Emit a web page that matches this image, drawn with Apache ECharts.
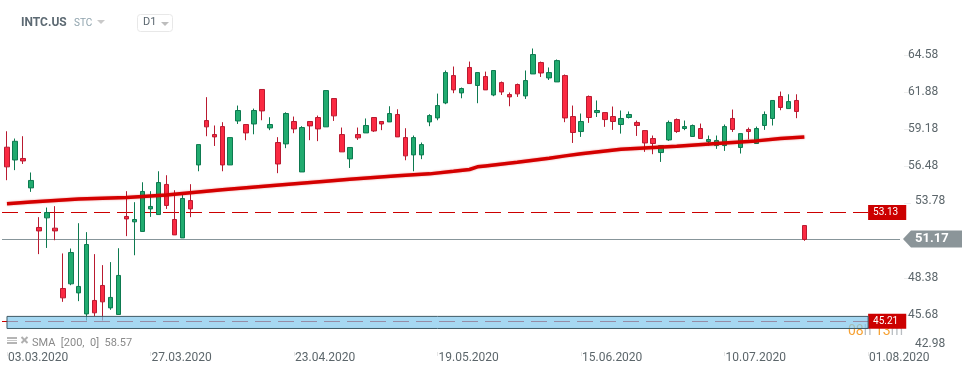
<!DOCTYPE html>
<html>
<head>
<meta charset="utf-8">
<title>INTC.US</title>
<style>
  html, body { margin: 0; padding: 0; background: #fff; }
  #chart { width: 974px; height: 375px; }
</style>
<script src="https://cdn.jsdelivr.net/npm/echarts@6/dist/echarts.min.js"></script>
</head>
<body>
<div id="chart"></div>
<script>
const opens = [
  57.88,56.95,57.06,54.92,52.04,52.74,51.99,47.60,47.94,47.28,
  45.75,46.73,47.82,46.19,45.71,52.84,52.45,51.75,53.39,52.98,
  55.17,52.62,51.28,54.00,56.59,59.82,58.80,59.38,56.59,59.79,
  59.53,59.57,62.08,59.28,58.22,58.12,59.75,56.08,59.75,60.04,
  59.36,61.42,58.80,57.03,58.80,58.92,60.04,59.75,59.72,60.26,
  58.58,57.32,57.32,59.72,60.01,61.10,63.09,61.83,63.68,62.37,
  63.02,61.68,62.58,61.71,62.44,61.61,63.21,64.04,62.92,62.63,
  63.09,60.11,59.02,61.57,60.40,60.40,60.11,59.53,60.04,59.68,
  59.09,58.51,57.49,58.41,59.89,59.24,58.66,59.24,58.29,58.00,
  58.00,59.97,57.86,59.17,58.15,59.46,59.97,61.57,60.69,61.28,52.18
];
const closes = [
  56.45,58.31,56.88,55.46,51.79,53.13,51.79,46.92,50.22,47.75,
  50.80,45.83,46.63,46.95,48.55,52.66,52.62,54.66,53.57,55.31,
  53.64,51.50,54.15,53.39,58.07,59.36,58.63,56.59,58.58,60.55,
  58.92,60.55,60.52,59.53,56.66,60.33,59.21,59.31,59.43,59.21,
  62.00,60.16,57.54,57.86,58.56,59.46,59.06,59.57,60.33,58.63,
  57.25,58.58,58.07,60.18,60.91,63.31,62.05,62.15,62.51,63.31,
  62.05,63.46,61.90,61.54,61.76,62.73,64.62,63.28,63.31,64.18,
  60.01,58.95,59.75,60.04,60.55,59.89,59.75,59.97,60.26,59.46,
  58.19,58.15,58.00,59.68,59.02,59.38,59.46,58.51,58.44,58.37,
  59.38,59.17,58.87,59.02,59.24,60.26,61.28,60.77,61.20,60.48,51.17
];
const lows = [
  55.48,56.21,56.66,54.63,50.10,50.55,51.11,46.63,47.84,46.68,
  45.27,45.59,45.27,46.05,45.71,51.41,50.02,51.75,52.81,52.98,
  53.39,51.50,51.28,52.79,56.13,58.68,57.97,56.13,56.59,59.57,
  58.39,58.82,59.84,59.12,55.99,57.81,58.90,56.08,58.39,58.32,
  59.36,59.79,57.54,56.37,58.41,58.92,58.99,59.12,59.72,58.63,
  56.93,56.13,57.01,59.41,59.84,61.01,61.81,61.44,62.51,61.08,
  62.05,61.59,61.68,60.86,61.54,61.39,63.21,62.99,62.77,62.63,
  59.70,58.19,58.63,59.65,60.08,59.36,59.14,58.87,59.97,58.70,
  57.54,57.37,56.81,58.34,58.92,59.12,58.63,58.48,58.00,57.76,
  57.61,58.99,57.42,58.44,58.15,59.14,59.46,60.57,60.69,59.99,51.07
];
const highs = [
  59.04,58.51,58.68,56.04,52.79,53.49,53.59,50.15,50.51,52.35,
  51.70,50.10,49.30,49.52,50.53,54.68,53.88,55.33,54.68,56.13,
  55.84,54.75,54.58,55.19,58.07,61.52,59.46,59.70,58.58,60.91,
  59.53,60.69,62.08,60.06,58.61,60.42,60.11,59.41,59.75,60.18,
  62.00,61.42,59.31,57.86,59.31,59.97,60.04,59.75,60.86,60.64,
  59.26,58.73,58.22,60.28,61.78,63.46,63.75,62.22,64.11,63.31,
  63.38,63.46,62.66,61.86,62.51,63.46,65.06,64.11,63.68,64.26,
  63.17,60.91,60.33,61.64,61.28,60.40,60.84,60.55,60.48,59.82,
  59.09,58.73,58.00,59.82,59.97,59.82,59.53,59.60,58.73,58.73,
  59.53,60.62,58.87,59.31,59.38,60.48,61.28,61.93,61.73,61.73,52.18
];

// SMA at the places where its slope changes
const smaIndex = [0, 3, 9, 15, 20, 27, 33, 40, 43, 49, 53, 56, 58, 59, 60, 64, 68, 70, 72, 77, 84, 89, 94, 97, 100];
const smaValues = [53.77, 53.90, 54.12, 54.22, 54.41, 54.79, 55.08, 55.41, 55.55, 55.81, 55.94, 56.13,
  56.26, 56.45, 56.52, 56.79, 57.08, 57.25, 57.41, 57.73, 57.95, 58.15, 58.34, 58.51, 58.63];

const dateLabels = ['03.03.2020', '27.03.2020', '23.04.2020', '19.05.2020', '15.06.2020', '10.07.2020', '01.08.2020'];
const priceTicks = [42.98, 45.68, 48.38, 51.08, 53.78, 56.48, 59.18, 61.88, 64.58];
const shiftedTicks = [42.98, 51.08, 53.78];

const lastPrice = 51.17;
const upperLevel = 53.13;
const lowerLevel = 45.21;
const zoneTop = 45.57;
const zoneBottom = 44.69;

const DATE_STEP = 18;
const SLOTS = 113;
const LAST_DATE_SLOT = 108;

const categories = [];
for (let i = 0; i < SLOTS; i++) {
  categories.push(i % DATE_STEP === 0 && dateLabels[i / DATE_STEP] ? dateLabels[i / DATE_STEP] : '');
}

const candles = opens.map((o, i) => [o, closes[i], lows[i], highs[i]]);
const sma = smaIndex.map((x, i) => [x, smaValues[i]]);
const isDateSlot = (i) => i % DATE_STEP === 0 && i <= LAST_DATE_SLOT;

function levelLine(value) {
  return [
    { x: 2, yAxis: value },
    {
      xAxis: LAST_DATE_SLOT,
      yAxis: value,
      label: {
        show: true,
        position: 'end',
        distance: 0,
        formatter: value.toFixed(2),
        color: '#fff',
        backgroundColor: '#cc0000',
        padding: [3, 8, 2, 5],
        fontFamily: 'Roboto',
        fontSize: 10
      },
      lineStyle: { color: '#cc0000', type: [16, 7], width: 1 }
    }
  ];
}

const chart = echarts.init(document.getElementById('chart'), null, { renderer: 'canvas' });

chart.setOption({
  animation: false,
  backgroundColor: '#fff',
  grid: { left: 3, top: 18, width: 901, height: 334 },
  xAxis: {
    type: 'category',
    data: categories,
    boundaryGap: true,
    axisLine: { show: false },
    axisTick: { show: true, alignWithLabel: true, interval: isDateSlot, length: 4, lineStyle: { color: '#e6e6e6' } },
    axisLabel: {
      interval: isDateSlot,
      align: 'left',
      margin: 0,
      padding: [0, 0, 0, 1],
      color: '#5c666b',
      fontFamily: 'Roboto',
      fontSize: 12
    },
    splitLine: { show: false }
  },
  yAxis: {
    type: 'value',
    position: 'right',
    min: 42.98,
    max: 67.28,
    axisLine: { show: false },
    axisTick: { show: true, length: 7, customValues: priceTicks, lineStyle: { color: '#eeeeee' } },
    axisLabel: {
      customValues: priceTicks.filter((v) => !shiftedTicks.includes(v)),
      formatter: (v) => v.toFixed(2),
      margin: 4,
      color: '#5c666b',
      fontFamily: 'Roboto',
      fontSize: 12
    },
    splitLine: { show: false }
  },
  series: [
    {
      name: 'INTC.US',
      type: 'candlestick',
      z: 2,
      barWidth: 5,
      data: candles,
      itemStyle: {
        color: '#21ab6f',
        borderColor: '#0d7a50',
        color0: '#fb2a42',
        borderColor0: '#b91a30',
        borderWidth: 1
      },
      markLine: {
        silent: true,
        z: 1,
        symbol: 'none',
        animation: false,
        data: [
          levelLine(upperLevel),
          levelLine(lowerLevel),
          [
            { x: 2, yAxis: lastPrice },
            { xAxis: SLOTS - 1, yAxis: lastPrice, label: { show: false }, lineStyle: { color: '#87959a', type: 'solid', width: 1 } }
          ]
        ]
      }
    },
    {
      name: 'SMA',
      type: 'line',
      z: 3,
      data: sma,
      showSymbol: false,
      symbol: 'none',
      lineStyle: { color: '#d40000', width: 3.5, shadowColor: 'rgba(212,0,0,0.45)', shadowBlur: 2 },
      markArea: {
        silent: true,
        z: 4,
        itemStyle: { color: 'rgba(128,200,236,0.7)', borderColor: '#3f5a66', borderWidth: 1 },
        data: [[
          { xAxis: 0, yAxis: zoneTop },
          { xAxis: LAST_DATE_SLOT, yAxis: zoneBottom }
        ]]
      }
    }
  ]
});

// the price tag follows the axis, header and footer pieces are fixed
const lastY = chart.convertToPixel({ yAxisIndex: 0 }, lastPrice);
const tagY = Math.round(lastY);

chart.setOption({
  graphic: [
    { type: 'text', left: 21, top: 17, style: { text: 'INTC.US', fill: '#5d6a73', font: 'bold 12px Roboto' } },
    { type: 'text', left: 74, top: 18, style: { text: 'STC', fill: '#8fa3ad', font: '10px Roboto' } },
    { type: 'polygon', shape: { points: [[97, 20], [105, 20], [101, 24]] }, style: { fill: '#c9c9c9' } },
    { type: 'rect', shape: { x: 137.5, y: 14.5, width: 35, height: 17, r: 3 }, style: { fill: '#fff', stroke: '#e8e8e8' } },
    { type: 'text', left: 143, top: 17, style: { text: 'D1', fill: '#5b6770', font: '11px Roboto' } },
    { type: 'polygon', shape: { points: [[161, 22], [169, 22], [165, 26]] }, style: { fill: '#bdbdbd' } },

    { type: 'polygon', z: 6, shape: { points: [[903, tagY], [911, tagY - 8.5], [962, tagY - 8.5], [962, tagY + 8.5], [911, tagY + 8.5]] }, style: { fill: '#8b9599' } },
    { type: 'text', z: 7, left: 915, top: tagY - 7, style: { text: lastPrice.toFixed(2), fill: '#fff', font: 'bold 13px Roboto' } },
    { type: 'text', left: 915, top: 195, style: { text: priceTicks[4].toFixed(2), fill: '#5c666b', font: '12px Roboto' } },
    { type: 'text', left: 915, top: 338, style: { text: priceTicks[0].toFixed(2), fill: '#5c666b', font: '12px Roboto' } },

    {
      type: 'text',
      z: 0,
      left: 848,
      top: 324,
      style: {
        text: '{o|08}{g|h }{o|13}{g|m}',
        rich: {
          o: { fill: '#f6a235', font: '14px Roboto' },
          g: { fill: '#b9bec2', font: '14px Roboto' }
        }
      }
    },

    { type: 'rect', shape: { x: 7, y: 337, width: 10, height: 2 }, style: { fill: '#b5b5b5' } },
    { type: 'rect', shape: { x: 7, y: 340, width: 10, height: 1 }, style: { fill: '#c8c8c8' } },
    { type: 'rect', shape: { x: 7, y: 342, width: 10, height: 2 }, style: { fill: '#b5b5b5' } },
    { type: 'line', shape: { x1: 21.5, y1: 337, x2: 27.5, y2: 343 }, style: { stroke: '#b0b0b0', lineWidth: 2 } },
    { type: 'line', shape: { x1: 27.5, y1: 337, x2: 21.5, y2: 343 }, style: { stroke: '#b0b0b0', lineWidth: 2 } },
    { type: 'text', left: 32, top: 338, style: { text: 'SMA  [200,  0]  58.57', fill: '#8a8a8a', font: '11px Roboto' } }
  ]
});

window.addEventListener('resize', () => chart.resize());
</script>
</body>
</html>
